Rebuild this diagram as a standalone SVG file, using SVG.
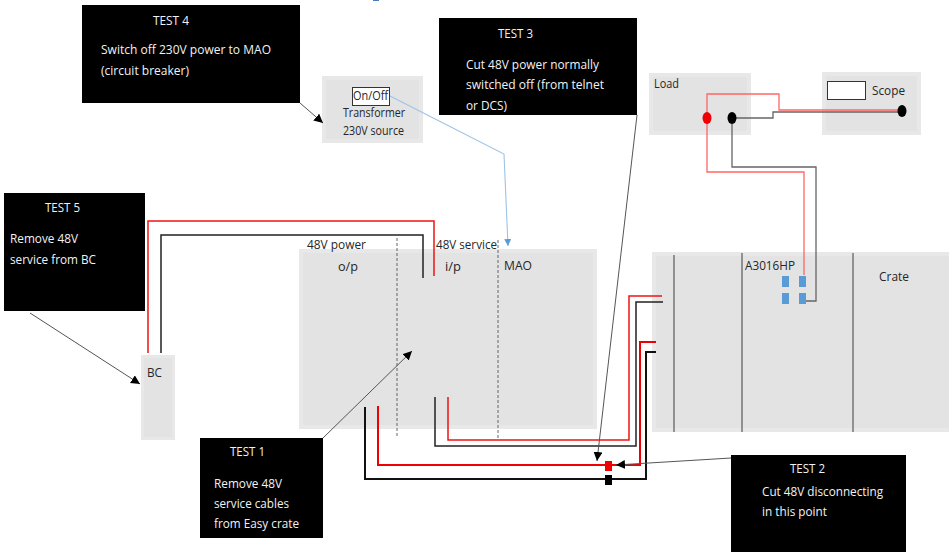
<svg xmlns="http://www.w3.org/2000/svg" width="949" height="552" viewBox="0 0 949 552">
<style>
text{font-family:"Open Sans","Liberation Sans",sans-serif;font-size:13px;fill:#262626}
.w{fill:#f2f2f2}
.o{fill:#e8e8e8}
.i{fill:#e3e3e3}
.k{fill:#000}
.r,.b,.g,.d,.a,.l,.p,.B,.R{fill:none}
.r{stroke:#f01414;stroke-width:1.5}
.R{stroke:#f00000;stroke-width:2}
.p{stroke:#f66;stroke-width:1.3}
.b{stroke:#222;stroke-width:1.5}
.B{stroke:#111;stroke-width:2}
.g{stroke:#666;stroke-width:1.3}
.d{stroke:#555;stroke-width:.9;stroke-dasharray:3 2}
.a{stroke:#555;stroke-width:1;marker-end:url(#ah)}
.l{stroke:#9cc3e8;stroke-width:1.1;marker-end:url(#bh)}
.s{fill:#5b9bd5}
</style>
<defs>
<marker id="ah" markerUnits="userSpaceOnUse" markerWidth="10" markerHeight="10" refX="9" refY="4.500" orient="auto"><path d="M0 0L9 4.500L0 9z" fill="#000"/></marker>
<marker id="bh" markerUnits="userSpaceOnUse" markerWidth="8" markerHeight="8" refX="7" refY="3.500" orient="auto"><path d="M0 0L7 3.500L0 7z" fill="#5b9bd5"/></marker>
</defs>
<rect width="949" height="552" fill="#fff"/>
<line x1="373" y1="0.5" x2="379" y2="0.5" stroke="#4a7ebb"/>
<g id="node-mao"><rect class="o" x="299" y="249" width="298" height="180"/><rect class="i" x="303" y="253" width="290" height="172"/>
<text x="307" y="249" textLength="59" lengthAdjust="spacingAndGlyphs">48V power</text><text x="338" y="271" textLength="20" lengthAdjust="spacingAndGlyphs">o/p</text><text x="436" y="249" textLength="61" lengthAdjust="spacingAndGlyphs">48V service</text><text x="445" y="271" textLength="16" lengthAdjust="spacingAndGlyphs">i/p</text><text x="504" y="270" textLength="28" lengthAdjust="spacingAndGlyphs">MAO</text></g>
<g id="node-crate"><rect class="o" x="652" y="252" width="297" height="180"/><rect class="i" x="656" y="256" width="293" height="172"/>
<text x="745" y="270" textLength="50" lengthAdjust="spacingAndGlyphs">A3016HP</text><text x="879" y="281" textLength="30" lengthAdjust="spacingAndGlyphs">Crate</text>
<path class="g" d="M674 255V432M742 253V432M853 253V432"/>
<rect class="s" x="782" y="276" width="7" height="11"/><rect class="s" x="799" y="276" width="7" height="11"/><rect class="s" x="782" y="293" width="7" height="11"/><rect class="s" x="799" y="293" width="7" height="11"/></g>
<g id="node-load"><rect class="o" x="649" y="73" width="102" height="62"/><rect class="i" x="653" y="77" width="94" height="54"/><text x="654" y="88" textLength="25" lengthAdjust="spacingAndGlyphs">Load</text></g>
<g id="node-scope"><rect class="o" x="822" y="72" width="99" height="63"/><rect class="i" x="826" y="76" width="91" height="55"/><rect x="827.500" y="81.500" width="38" height="18" fill="#fff" stroke="#333"/><text x="872" y="95" textLength="33" lengthAdjust="spacingAndGlyphs">Scope</text></g>
<g id="node-transformer"><rect class="o" x="322" y="76" width="101" height="67"/><rect class="i" x="326" y="80" width="93" height="59"/><rect x="352.500" y="87.500" width="37" height="18" fill="#fff" stroke="#333"/><text x="353" y="100" textLength="35" lengthAdjust="spacingAndGlyphs">On/Off</text><text x="343" y="117" textLength="62" lengthAdjust="spacingAndGlyphs">Transformer</text><text x="343" y="135" textLength="61" lengthAdjust="spacingAndGlyphs">230V source</text></g>
<g id="node-bc"><rect class="o" x="141" y="355" width="34" height="85"/><rect class="i" x="144" y="358" width="28" height="79"/><text x="147" y="377" textLength="15" lengthAdjust="spacingAndGlyphs">BC</text></g>
<g id="connectors">
<path class="d" d="M397 238V438M498 240V438"/>
<path class="r" d="M148 353V221H434V276"/>
<path class="b" d="M161 353V235H423V278"/>
<path class="r" d="M448 397V440H629V296H662"/>
<path class="b" d="M435 397V446H636V302H663"/>
<path class="R" d="M378 406V465H640V342H656"/>
<path class="B" d="M365 407V479H646V352H656"/>
<path class="p" d="M707 118V94H779V110H900"/>
<path class="g" d="M732 118H773V112H900"/>
<path class="p" d="M707 118V172H804V275"/>
<path class="g" d="M732 118V167H816V301H806"/>
<path class="l" d="M390 96L504 154L508 246"/>
<path class="a" d="M300 103L323 123"/>
<path class="a" d="M30 313L140 384"/>
<path class="a" d="M323 438L412 351"/>
<path class="a" d="M637 115L597 461"/>
<path class="a" d="M731 458L616 465"/>
<rect x="605" y="461" width="7" height="10" fill="#f00000"/>
<rect x="605" y="475" width="7" height="10" fill="#000"/>
<ellipse cx="707" cy="118" rx="4.500" ry="6" fill="#f00000"/>
<ellipse cx="732" cy="118" rx="4.500" ry="6" fill="#000"/>
<ellipse cx="902" cy="111" rx="4.500" ry="6" fill="#000"/>
</g>
<g id="test-4"><rect class="k" x="82" y="5" width="218" height="98"/><text class="w" x="153" y="25" textLength="36" lengthAdjust="spacingAndGlyphs">TEST 4</text><text class="w" x="101" y="54" textLength="170" lengthAdjust="spacingAndGlyphs">Switch off 230V power to MAO</text><text class="w" x="101" y="75" textLength="88" lengthAdjust="spacingAndGlyphs">(circuit breaker)</text></g>
<g id="test-3"><rect class="k" x="439" y="18" width="198" height="97"/><text class="w" x="498" y="38" textLength="35" lengthAdjust="spacingAndGlyphs">TEST 3</text><text class="w" x="466" y="69" textLength="133" lengthAdjust="spacingAndGlyphs">Cut 48V power normally</text><text class="w" x="466" y="89" textLength="138" lengthAdjust="spacingAndGlyphs">switched off (from telnet</text><text class="w" x="466" y="110" textLength="41" lengthAdjust="spacingAndGlyphs">or DCS)</text></g>
<g id="test-5"><rect class="k" x="4" y="193" width="141" height="118"/><text class="w" x="45" y="212" textLength="35" lengthAdjust="spacingAndGlyphs">TEST 5</text><text class="w" x="10" y="243" textLength="68" lengthAdjust="spacingAndGlyphs">Remove 48V</text><text class="w" x="10" y="264" textLength="86" lengthAdjust="spacingAndGlyphs">service from BC</text></g>
<g id="test-1"><rect class="k" x="200" y="438" width="123" height="100"/><text class="w" x="230" y="456" textLength="35" lengthAdjust="spacingAndGlyphs">TEST 1</text><text class="w" x="214" y="488" textLength="68" lengthAdjust="spacingAndGlyphs">Remove 48V</text><text class="w" x="214" y="508" textLength="75" lengthAdjust="spacingAndGlyphs">service cables</text><text class="w" x="214" y="528" textLength="85" lengthAdjust="spacingAndGlyphs">from Easy crate</text></g>
<g id="test-2"><rect class="k" x="731" y="455" width="175" height="97"/><text class="w" x="790" y="473" textLength="35" lengthAdjust="spacingAndGlyphs">TEST 2</text><text class="w" x="762" y="496" textLength="121" lengthAdjust="spacingAndGlyphs">Cut 48V disconnecting</text><text class="w" x="762" y="516" textLength="65" lengthAdjust="spacingAndGlyphs">in this point</text></g>
</svg>
